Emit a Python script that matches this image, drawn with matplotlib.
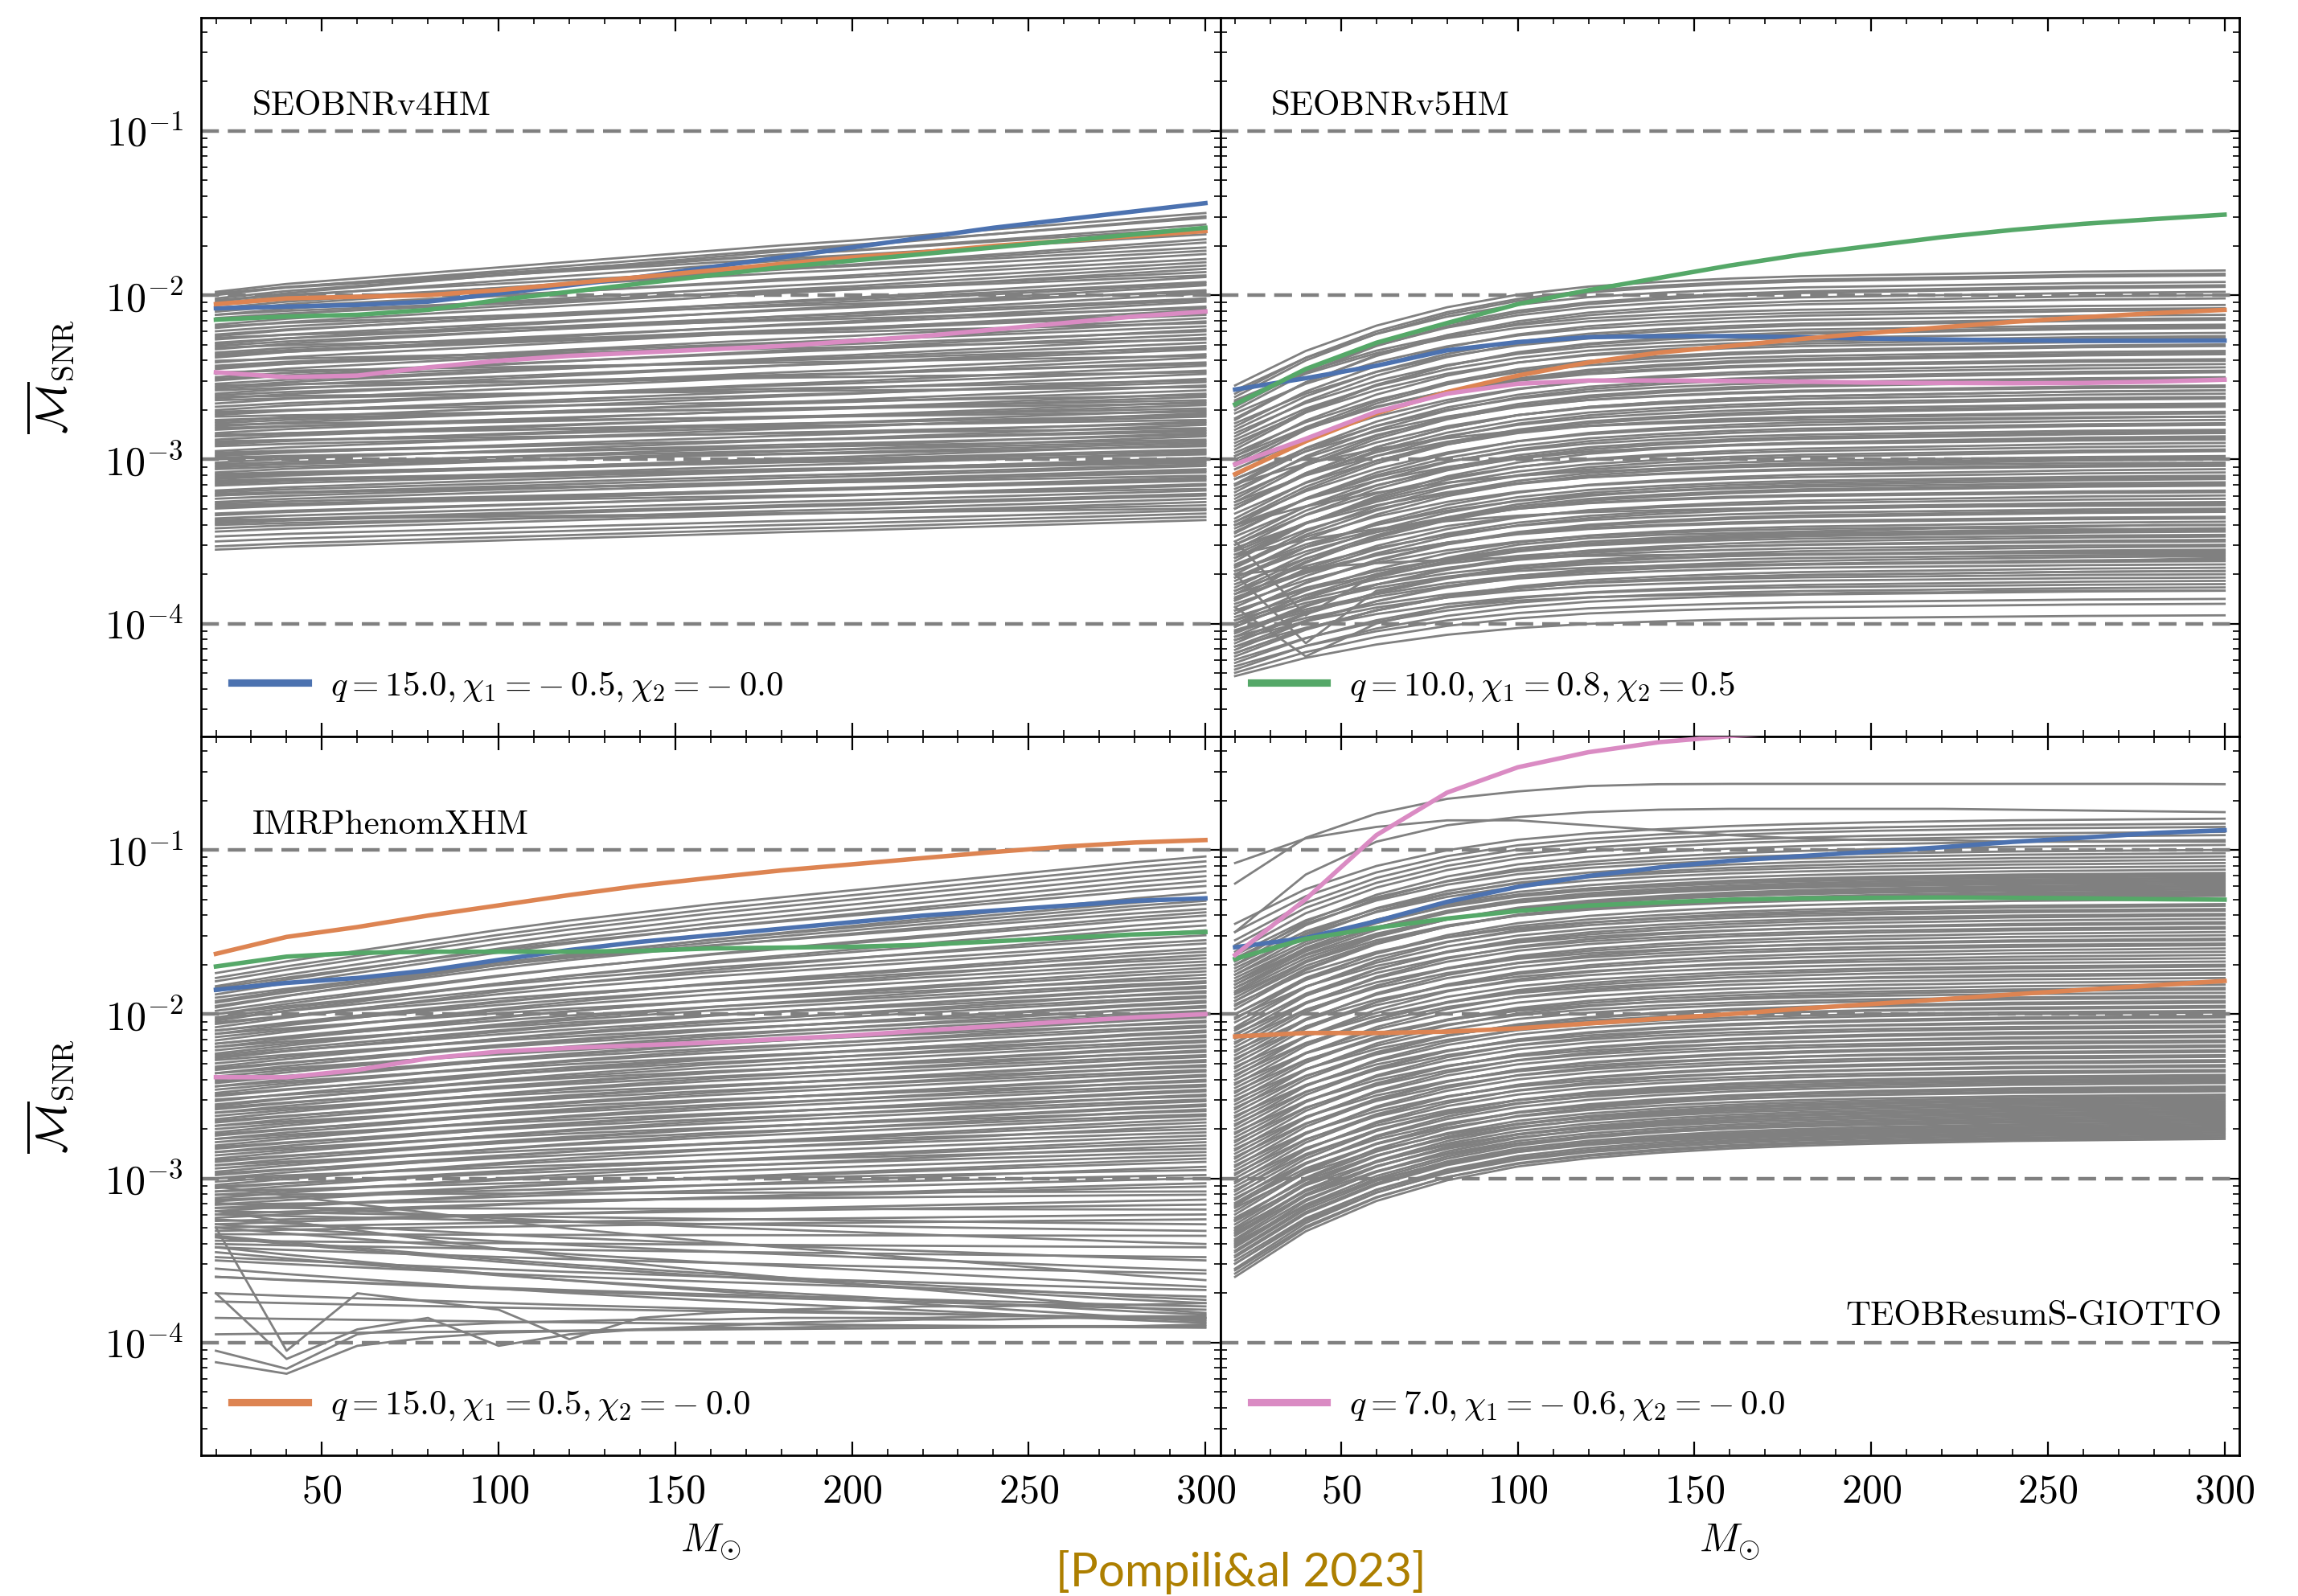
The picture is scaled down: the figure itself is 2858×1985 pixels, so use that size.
#!/usr/bin/env python3
# -*- coding: utf-8 -*-
"""
Mismatch (SNR-weighted) vs total mass for four waveform models,
one grey curve per injected configuration and four highlighted cases.
"""

import matplotlib
matplotlib.use("Agg")
import matplotlib.pyplot as plt
from matplotlib.lines import Line2D
from matplotlib.ticker import MultipleLocator, LogLocator, NullFormatter
import numpy as np


# Total mass grid (solar masses)
MASSES = [20, 40, 60, 80, 100, 120, 140, 160, 180, 200, 220, 240, 260, 280, 300]

MODELS = ["SEOBNRv4HM", "SEOBNRv5HM", "IMRPhenomXHM", "TEOBResumS-GIOTTO"]

# Highlighted configurations (seaborn "deep" colours)
CASE_LABELS = [
    r"$q = 15.0, \chi_1 = -\:0.5, \chi_2 = -\:0.0$",
    r"$q = 15.0, \chi_1 = 0.5, \chi_2 = -\:0.0$",
    r"$q = 10.0, \chi_1 = 0.8, \chi_2 = 0.5$",
    r"$q = 7.0, \chi_1 = -\:0.6, \chi_2 = -\:0.0$",
]
CASE_COLORS = ["#4C72B0", "#DD8452", "#55A868", "#DA8BC3"]
# which case is listed in the legend of each panel
LEGEND_CASE = [0, 2, 1, 3]

# log10 of the mismatch for the highlighted cases: [blue, orange, green, pink]
v4_cases = [
    [-2.08, -2.07, -2.06, -2.04, -1.99, -1.94, -1.89, -1.83, -1.77, -1.71, -1.65, -1.59, -1.54, -1.49, -1.44],
    [-2.055, -2.02, -2.01, -2.00, -1.97, -1.93, -1.89, -1.85, -1.81, -1.77, -1.74, -1.70, -1.67, -1.64, -1.61],
    [-2.15, -2.13, -2.12, -2.09, -2.03, -1.98, -1.93, -1.88, -1.83, -1.79, -1.75, -1.71, -1.67, -1.63, -1.59],
    [-2.47, -2.50, -2.49, -2.44, -2.40, -2.37, -2.35, -2.33, -2.31, -2.28, -2.25, -2.21, -2.17, -2.13, -2.10],
]
v5_cases = [
    [-2.575, -2.506, -2.43, -2.336, -2.286, -2.256, -2.25, -2.25, -2.256, -2.265, -2.27, -2.275, -2.278, -2.278, -2.277],
    [-3.09, -2.89, -2.72, -2.59, -2.49, -2.41, -2.35, -2.31, -2.267, -2.23, -2.196, -2.163, -2.135, -2.11, -2.09],
    [-2.665, -2.45, -2.29, -2.17, -2.055, -1.97, -1.895, -1.82, -1.754, -1.70, -1.647, -1.603, -1.566, -1.537, -1.51],
    [-3.03, -2.875, -2.71, -2.60, -2.54, -2.52, -2.52, -2.523, -2.527, -2.533, -2.535, -2.537, -2.535, -2.527, -2.515],
]
xhm_cases = [
    [-1.852, -1.81, -1.78, -1.734, -1.67, -1.61, -1.56, -1.52, -1.48, -1.44, -1.40, -1.37, -1.34, -1.31, -1.295],
    [-1.633, -1.53, -1.47, -1.40, -1.338, -1.275, -1.218, -1.17, -1.125, -1.088, -1.05, -1.013, -0.98, -0.955, -0.94],
    [-1.71, -1.65, -1.627, -1.62, -1.62, -1.62, -1.615, -1.60, -1.595, -1.59, -1.578, -1.557, -1.535, -1.515, -1.50],
    [-2.384, -2.385, -2.34, -2.27, -2.228, -2.206, -2.19, -2.173, -2.151, -2.13, -2.10, -2.074, -2.045, -2.02, -2.00],
]
teob_cases = [
    [-1.593, -1.536, -1.434, -1.316, -1.225, -1.159, -1.107, -1.066, -1.038, -1.011, -0.984, -0.951, -0.926, -0.897, -0.88],
    [-2.136, -2.115, -2.115, -2.107, -2.087, -2.057, -2.028, -2.00, -1.967, -1.939, -1.91, -1.88, -1.852, -1.825, -1.798],
    [-1.664, -1.541, -1.475, -1.418, -1.372, -1.339, -1.32, -1.303, -1.295, -1.292, -1.29, -1.292, -1.295, -1.30, -1.303],
    [-1.64, -1.30, -0.91, -0.651, -0.497, -0.405, -0.344, -0.307, -0.28, -0.26, -0.24, -0.23, -0.22, -0.21, -0.20],
]

# Grey population: log10 mismatch at M=20 (start) and M=300 (end),
# joined along the typical mass trend of each model (profile, 0 -> 1)
v4_start = [-1.98, -2.00, -2.02, -2.05, -1.99, -2.08, -2.03, -2.12, -2.10, -2.15,
            -2.20, -2.14, -2.25, -2.22, -2.30, -2.27, -2.33, -2.29, -2.38, -2.35,
            -2.41, -2.36, -2.45, -2.48, -2.43, -2.52, -2.50, -2.56, -2.54, -2.60,
            -2.57, -2.63, -2.66, -2.61, -2.70, -2.68, -2.73, -2.77, -2.72, -2.80,
            -2.78, -2.84, -2.82, -2.88, -2.86, -2.91, -2.95, -2.90, -2.98, -3.02,
            -2.97, -3.05, -3.08, -3.03, -3.12, -3.10, -3.15, -3.19, -3.14, -3.22,
            -3.26, -3.21, -3.30, -3.34, -3.28, -3.38, -3.42, -3.40, -3.47, -3.53,
            -2.04, -1.99, -2.10, -2.06, -2.18, -2.12, -2.24, -2.19, -2.31, -2.26,
            -2.37, -2.32, -2.44, -2.40, -2.51, -2.47, -2.58, -2.55, -2.64, -2.62,
            -2.71, -2.76, -2.74, -2.81, -2.79, -2.86, -2.85, -2.92, -2.89, -2.96,
            -3.00, -2.99, -3.06, -3.04, -3.11, -3.09, -3.16, -3.13, -3.20, -3.24,
            -3.22, -3.29, -3.27, -3.33, -3.36, -3.39, -3.44, -3.37, -3.50, -3.55]
v4_end = [-1.50, -1.53, -1.57, -1.61, -1.63, -1.68, -1.71, -1.75, -1.78, -1.80,
          -1.84, -1.86, -1.89, -1.92, -1.94, -1.97, -1.99, -2.02, -2.04, -2.07,
          -2.09, -2.11, -2.14, -2.16, -2.19, -2.21, -2.24, -2.26, -2.29, -2.31,
          -2.33, -2.36, -2.38, -2.41, -2.43, -2.46, -2.48, -2.51, -2.53, -2.55,
          -2.58, -2.60, -2.62, -2.65, -2.67, -2.70, -2.72, -2.74, -2.77, -2.79,
          -2.82, -2.84, -2.86, -2.89, -2.91, -2.94, -2.96, -2.99, -3.02, -3.04,
          -3.07, -3.10, -3.12, -3.15, -3.18, -3.21, -3.24, -3.28, -3.31, -3.35,
          -1.52, -1.59, -1.66, -1.73, -1.82, -1.88, -1.93, -1.98, -2.03, -2.08,
          -2.12, -2.17, -2.22, -2.27, -2.32, -2.37, -2.42, -2.47, -2.52, -2.56,
          -2.61, -2.64, -2.66, -2.69, -2.71, -2.73, -2.76, -2.78, -2.81, -2.83,
          -2.85, -2.88, -2.90, -2.92, -2.95, -2.97, -3.00, -3.01, -3.03, -3.06,
          -3.08, -3.11, -3.13, -3.16, -3.19, -3.22, -3.26, -3.30, -3.33, -3.37]
v4_profile = [0, 0.10, 0.17, 0.24, 0.31, 0.38, 0.45, 0.52, 0.59, 0.65, 0.72, 0.79, 0.86, 0.93, 1.0]

v5_start = [-2.55, -2.62, -2.58, -2.70, -2.66, -2.75, -2.64, -2.80, -2.72, -2.86,
            -2.78, -2.92, -2.84, -2.98, -2.90, -3.04, -2.96, -3.10, -3.00, -3.15,
            -3.06, -3.20, -3.12, -3.26, -3.18, -3.30, -3.22, -3.36, -3.28, -3.40,
            -3.33, -3.45, -3.38, -3.50, -3.42, -3.55, -3.47, -3.60, -3.52, -3.65,
            -3.56, -3.70, -3.60, -3.74, -3.64, -3.78, -3.68, -3.82, -3.72, -3.86,
            -3.76, -3.90, -3.80, -3.94, -3.84, -3.98, -3.88, -4.02, -3.92, -4.06,
            -3.96, -4.10, -4.00, -4.14, -4.05, -4.18, -4.10, -4.22, -4.26, -4.32,
            -2.60, -2.68, -2.76, -2.65, -2.82, -2.94, -2.88, -3.02, -3.10, -2.98,
            -3.16, -3.24, -3.12, -3.30, -3.38, -3.26, -3.44, -3.52, -3.40, -3.58,
            -3.66, -3.54, -3.72, -3.80, -3.68, -3.86, -3.94, -3.82, -4.00, -4.08,
            -3.92, -4.12, -3.98, -4.16, -4.04, -4.20, -4.08, -4.24, -4.14, -4.28,
            -3.30, -3.15, -3.62, -3.40, -3.85, -3.58, -4.02, -3.70, -4.18, -4.30]
v5_end = [-1.85, -1.88, -1.92, -1.95, -1.98, -2.02, -2.06, -2.09, -2.12, -2.15,
          -2.18, -2.20, -2.23, -2.26, -2.28, -2.31, -2.34, -2.36, -2.39, -2.42,
          -2.44, -2.47, -2.50, -2.52, -2.55, -2.58, -2.60, -2.63, -2.66, -2.68,
          -2.71, -2.74, -2.76, -2.79, -2.82, -2.84, -2.87, -2.90, -2.92, -2.95,
          -2.98, -3.00, -3.03, -3.06, -3.08, -3.11, -3.14, -3.16, -3.19, -3.22,
          -3.24, -3.27, -3.30, -3.32, -3.35, -3.38, -3.40, -3.43, -3.46, -3.49,
          -3.52, -3.55, -3.58, -3.61, -3.64, -3.68, -3.72, -3.78, -3.85, -3.95,
          -1.87, -1.94, -2.00, -2.08, -2.14, -2.19, -2.25, -2.30, -2.35, -2.40,
          -2.46, -2.51, -2.56, -2.62, -2.67, -2.72, -2.78, -2.83, -2.88, -2.94,
          -2.99, -3.04, -3.10, -3.15, -3.20, -3.26, -3.31, -3.36, -3.42, -3.47,
          -3.50, -3.53, -3.56, -3.59, -3.62, -3.66, -3.70, -3.74, -3.76, -3.80,
          -2.58, -2.74, -2.86, -3.02, -3.12, -3.28, -3.44, -3.57, -3.68, -3.88]
v5_profile = [0, 0.30, 0.52, 0.68, 0.79, 0.86, 0.90, 0.93, 0.95, 0.96, 0.97, 0.98, 0.99, 0.995, 1.0]

xhm_start = [-1.75, -1.80, -1.86, -1.84, -1.92, -1.95, -1.90, -1.98, -2.02, -2.00,
             -2.06, -2.10, -2.05, -2.14, -2.18, -2.12, -2.22, -2.25, -2.20, -2.30,
             -2.34, -2.28, -2.38, -2.42, -2.36, -2.46, -2.50, -2.44, -2.55, -2.58,
             -2.52, -2.62, -2.66, -2.60, -2.70, -2.74, -2.68, -2.78, -2.82, -2.76,
             -2.86, -2.90, -2.84, -2.94, -2.98, -2.92, -3.02, -3.06, -3.00, -3.10,
             -3.14, -3.08, -3.18, -3.22, -3.16, -3.26, -3.30, -3.20, -3.34, -3.38,
             -3.25, -3.42, -3.30, -3.50, -3.36, -3.60, -3.45, -3.70, -3.55, -3.85,
             -1.78, -1.83, -1.88, -1.96, -1.93, -2.00, -2.04, -2.08, -2.03, -2.12,
             -2.16, -2.10, -2.20, -2.24, -2.18, -2.27, -2.32, -2.26, -2.36, -2.40,
             -2.33, -2.44, -2.48, -2.41, -2.53, -2.56, -2.49, -2.60, -2.64, -2.57,
             -2.68, -2.72, -2.65, -2.76, -2.80, -2.73, -2.84, -2.88, -2.81, -2.92,
             -2.96, -2.89, -3.00, -3.04, -2.97, -3.08, -3.12, -3.05, -3.16, -3.20,
             -3.13, -3.24, -3.10, -3.28, -3.18, -3.32, -3.22, -3.15, -3.40, -3.28,
             -3.05, -3.48, -3.35, -3.60, -3.20, -3.75, -3.42, -3.95]
xhm_end = [-1.04, -1.10, -1.16, -1.22, -1.29, -1.33, -1.36, -1.40, -1.46, -1.52,
           -1.57, -1.62, -1.66, -1.70, -1.74, -1.78, -1.81, -1.84, -1.87, -1.90,
           -1.93, -1.96, -1.99, -2.02, -2.05, -2.08, -2.11, -2.14, -2.17, -2.20,
           -2.23, -2.26, -2.29, -2.32, -2.35, -2.38, -2.41, -2.44, -2.47, -2.50,
           -2.53, -2.56, -2.59, -2.62, -2.66, -2.70, -2.74, -2.78, -2.82, -2.86,
           -2.90, -2.95, -3.00, -3.05, -3.10, -3.16, -3.22, -3.28, -3.35, -3.42,
           -3.50, -3.58, -3.66, -3.72, -3.76, -3.80, -3.83, -3.86, -3.88, -3.91,
           -1.07, -1.13, -1.19, -1.26, -1.31, -1.38, -1.43, -1.49, -1.55, -1.60,
           -1.64, -1.68, -1.72, -1.76, -1.80, -1.83, -1.86, -1.89, -1.92, -1.95,
           -1.98, -2.01, -2.04, -2.07, -2.10, -2.13, -2.16, -2.19, -2.22, -2.25,
           -2.28, -2.31, -2.34, -2.37, -2.40, -2.43, -2.46, -2.49, -2.52, -2.55,
           -2.58, -2.61, -2.64, -2.68, -2.72, -2.76, -2.80, -2.84, -2.88, -2.93,
           -2.98, -3.03, -3.08, -3.13, -3.19, -3.25, -3.32, -3.40, -3.48, -3.56,
           -3.62, -3.68, -3.74, -3.78, -3.82, -3.85, -3.87, -3.90]
xhm_profile = [0, 0.10, 0.19, 0.28, 0.37, 0.45, 0.52, 0.59, 0.65, 0.71, 0.77, 0.83, 0.89, 0.95, 1.0]

teob_start = [-1.45, -1.55, -1.62, -1.70, -1.66, -1.76, -1.72, -1.82, -1.78, -1.86,
              -1.80, -1.90, -1.84, -1.95, -1.88, -2.00, -1.94, -2.05, -2.10, -2.02,
              -2.15, -2.20, -2.12, -2.25, -2.30, -2.22, -2.35, -2.40, -2.32, -2.45,
              -2.50, -2.42, -2.55, -2.60, -2.52, -2.65, -2.70, -2.62, -2.75, -2.80,
              -2.72, -2.85, -2.90, -2.82, -2.95, -3.00, -2.92, -3.05, -3.10, -3.02,
              -3.15, -3.20, -3.12, -3.25, -3.28, -3.18, -3.32, -3.35, -3.26, -3.38,
              -3.42, -3.33, -3.45, -3.48, -3.40, -3.52, -3.55, -3.50, -3.58, -3.60,
              -1.50, -1.58, -1.68, -1.64, -1.74, -1.70, -1.80, -1.76, -1.84, -1.82,
              -1.92, -1.87, -1.97, -1.92, -2.03, -2.08, -2.00, -2.13, -2.18, -2.09,
              -2.23, -2.28, -2.17, -2.33, -2.38, -2.27, -2.43, -2.48, -2.37, -2.53,
              -2.58, -2.47, -2.63, -2.68, -2.57, -2.73, -2.78, -2.67, -2.83, -2.88,
              -2.77, -2.93, -2.98, -2.87, -3.03, -3.08, -2.97, -3.13, -3.17, -3.07,
              -3.22, -3.26, -3.16, -3.30, -3.34, -3.24, -3.37, -3.41, -3.31, -3.44,
              -3.47, -3.39, -3.52, -3.56]
teob_end = [-0.81, -0.86, -0.91, -0.97, -1.02, -1.06, -1.10, -1.14, -1.16, -1.18,
            -1.20, -1.22, -1.24, -1.26, -1.28, -1.33, -1.36, -1.39, -1.42, -1.45,
            -1.48, -1.52, -1.55, -1.58, -1.62, -1.66, -1.70, -1.73, -1.76, -1.80,
            -1.84, -1.87, -1.90, -1.93, -1.96, -1.99, -2.02, -2.05, -2.08, -2.11,
            -2.14, -2.17, -2.20, -2.23, -2.26, -2.29, -2.32, -2.35, -2.38, -2.40,
            -2.42, -2.45, -2.47, -2.50, -2.52, -2.54, -2.56, -2.58, -2.60, -2.62,
            -2.63, -2.65, -2.66, -2.68, -2.69, -2.70, -2.71, -2.72, -2.74, -2.76,
            -0.84, -0.89, -0.94, -1.00, -1.04, -1.08, -1.12, -1.15, -1.17, -1.19,
            -1.21, -1.23, -1.25, -1.27, -1.30, -1.34, -1.37, -1.40, -1.44, -1.47,
            -1.50, -1.54, -1.57, -1.60, -1.64, -1.68, -1.71, -1.75, -1.78, -1.82,
            -1.85, -1.89, -1.92, -1.95, -1.98, -2.01, -2.04, -2.07, -2.10, -2.13,
            -2.16, -2.19, -2.22, -2.25, -2.28, -2.31, -2.34, -2.37, -2.39, -2.41,
            -2.44, -2.46, -2.49, -2.51, -2.53, -2.55, -2.57, -2.59, -2.61, -2.64,
            -2.67, -2.70, -2.73, -2.75]
teob_profile = [0, 0.33, 0.55, 0.70, 0.80, 0.86, 0.90, 0.93, 0.95, 0.965, 0.975, 0.985, 0.99, 0.995, 1.0]

# Individual grey curves that do not follow the common trend
v5_outliers = [
    [-3.70, -4.12, -3.80, -3.72, -3.68, -3.66, -3.65, -3.64, -3.64, -3.63, -3.63, -3.62, -3.62, -3.61, -3.60],
    [-3.90, -4.20, -4.00, -3.90, -3.86, -3.84, -3.83, -3.82, -3.82, -3.81, -3.81, -3.80, -3.80, -3.80, -3.80],
    [-3.50, -3.95, -3.70, -3.60, -3.52, -3.48, -3.46, -3.45, -3.44, -3.43, -3.42, -3.42, -3.41, -3.40, -3.40],
]
xhm_outliers = [
    [-4.12, -4.19, -4.02, -3.97, -3.94, -3.93, -3.92, -3.91, -3.91, -3.90, -3.90, -3.90, -3.90, -3.90, -3.89],
    [-4.05, -4.16, -3.95, -3.90, -3.88, -3.87, -3.86, -3.86, -3.85, -3.85, -3.85, -3.84, -3.84, -3.84, -3.84],
    [-3.70, -4.10, -3.92, -3.85, -4.02, -3.95, -3.92, -3.90, -3.88, -3.87, -3.86, -3.86, -3.85, -3.85, -3.85],
    [-3.30, -4.05, -3.70, -3.75, -3.80, -3.98, -3.85, -3.82, -3.80, -3.79, -3.78, -3.78, -3.77, -3.77, -3.76],
]
v4_outliers = []
teob_outliers = [
    [-1.205, -0.926, -0.779, -0.689, -0.644, -0.611, -0.60, -0.598, -0.598, -0.598, -0.598, -0.598, -0.598, -0.598, -0.60],
    [-1.08, -0.93, -0.86, -0.82, -0.82, -0.85, -0.88, -0.91, -0.93, -0.94, -0.94, -0.95, -0.95, -0.95, -0.95],
    [-1.50, -1.15, -0.95, -0.85, -0.80, -0.77, -0.755, -0.75, -0.75, -0.75, -0.75, -0.755, -0.76, -0.765, -0.77],
]

PANELS = [
    (v4_cases, v4_start, v4_end, v4_profile, v4_outliers),
    (v5_cases, v5_start, v5_end, v5_profile, v5_outliers),
    (xhm_cases, xhm_start, xhm_end, xhm_profile, xhm_outliers),
    (teob_cases, teob_start, teob_end, teob_profile, teob_outliers),
]

REF_LEVELS = [1e-1, 1e-2, 1e-3, 1e-4]
GREY = "#808080"


def grey_curves(start, end, profile):
    """Each grey curve moves from its M=20 value to its M=300 value along the profile"""
    prof = np.asarray(profile)
    return [10 ** (s + (e - s) * prof) for s, e in zip(start, end)]


def style_axis(ax, show_x, show_y):
    ax.set_xlim(15.8, 304.2)
    ax.set_yscale("log")
    ax.set_ylim(2.05e-5, 0.49)
    ax.xaxis.set_major_locator(MultipleLocator(50))
    ax.xaxis.set_minor_locator(MultipleLocator(10))
    ax.yaxis.set_major_locator(LogLocator(base=10, numticks=20))
    ax.yaxis.set_minor_locator(LogLocator(base=10, subs=np.arange(2, 10), numticks=20))
    ax.yaxis.set_minor_formatter(NullFormatter())
    ax.tick_params(which="both", direction="in", top=True, right=True,
                   labelsize=18, pad=8)
    ax.tick_params(which="major", length=6, width=0.8)
    ax.tick_params(which="minor", length=3, width=0.6)
    ax.tick_params(labelbottom=show_x, labelleft=show_y)
    for sp in ax.spines.values():
        sp.set_linewidth(1.0)


def draw_panel(ax, idx):
    cases, start, end, profile, outliers = PANELS[idx]

    for y in grey_curves(start, end, profile):
        ax.plot(MASSES, y, color=GREY, lw=1.0, zorder=1)
    for row in outliers:
        ax.plot(MASSES, 10 ** np.asarray(row), color=GREY, lw=1.0, zorder=1)

    for lev in REF_LEVELS:
        ax.axhline(lev, color=GREY, lw=1.6, ls=(0, (5, 2.5)), zorder=2)

    for row, color in zip(cases, CASE_COLORS):
        ax.plot(MASSES, 10 ** np.asarray(row), color=color, lw=2.0, zorder=3)

    k = LEGEND_CASE[idx]
    handle = Line2D([], [], color=CASE_COLORS[k], lw=3.3)
    ax.legend([handle], [CASE_LABELS[k]], loc="lower left", frameon=False,
              fontsize=15.5, handlelength=2.2, handletextpad=0.65,
              bbox_to_anchor=(-0.004, -0.002), borderaxespad=0.6)

    if idx == 3:
        ax.text(0.983, 0.193, MODELS[idx], transform=ax.transAxes,
                fontsize=15.5, ha="right", va="center")
    else:
        ax.text(0.05, 0.877, MODELS[idx], transform=ax.transAxes,
                fontsize=15.5, ha="left", va="center")


def main():
    plt.rcParams.update({
        "font.family": "serif",
        "font.serif": ["cmr10"],
        "mathtext.fontset": "cm",
        "axes.formatter.use_mathtext": True,
        "axes.unicode_minus": False,
    })

    fig, axes = plt.subplots(2, 2, figsize=(14.29, 9.925), dpi=200,
                             sharex=True, sharey=True)
    fig.subplots_adjust(left=0.0875, right=0.9745, top=0.989, bottom=0.088,
                        wspace=0, hspace=0)

    for idx, ax in enumerate(axes.flatten()):
        row, col = divmod(idx, 2)
        style_axis(ax, show_x=(row == 1), show_y=(col == 0))
        draw_panel(ax, idx)
        if col == 0:
            ax.set_ylabel(r"$\overline{\mathcal{M}}_{\rm SNR}$", fontsize=19)
            ax.yaxis.set_label_coords(-0.124, 0.5)
        if row == 1:
            ax.set_xlabel(r"$M_{\odot}$", fontsize=18)
            ax.xaxis.set_label_coords(0.5, -0.093)

    fig.text(0.540, 0.006, "[Pompili&al 2023]", color="#AD7F00",
             fontsize=21, family="Lato", ha="center", va="baseline")

    fig.savefig("out.png", dpi=200)
    plt.close(fig)


if __name__ == "__main__":
    main()
